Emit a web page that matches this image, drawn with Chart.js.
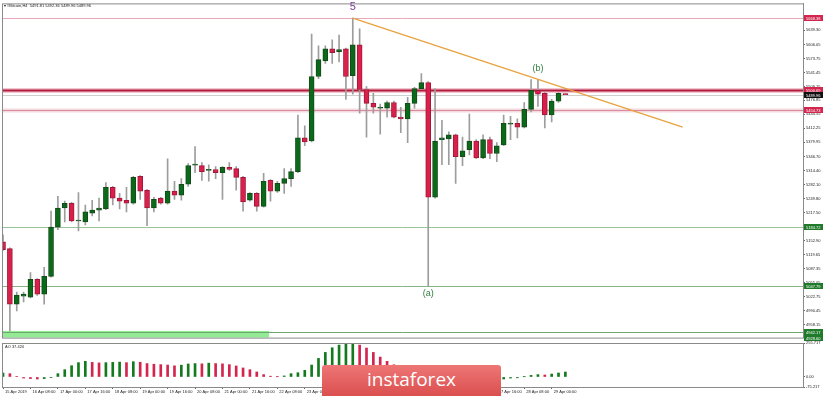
<!DOCTYPE html>
<html>
<head>
<meta charset="utf-8">
<script src="https://cdn.jsdelivr.net/npm/chart.js@4.4.0/dist/chart.umd.min.js"></script>
<style>
html, body { margin: 0; padding: 0; background: #fff; }
#wrap { position: relative; width: 823px; height: 396px; overflow: hidden; }
#main { position: absolute; left: 0; top: 0; }
#ao { position: absolute; left: 0; top: 335px; }
#logo {
    position: absolute; left: 322px; top: 365px; width: 179px; height: 31px;
    border-radius: 3px 3px 0 0; background: linear-gradient(#ee7676, #db4f4f);
    color: #fff; font: 19px "Open Sans", sans-serif; text-align: center; line-height: 29px;
}
</style>
</head>
<body>
<div id="wrap">
    <canvas id="main" width="823" height="341"></canvas>
    <canvas id="ao" width="823" height="61"></canvas>
    <div id="logo">instaforex</div>
</div>
<script>
// H4 bars, 15 Apr 16:00 .. 29 Apr 2019
const opens = [5150, 5134, 5006, 5024, 5022, 5063, 5029, 5070, 5184, 5228,
    5239, 5198, 5196, 5216, 5223, 5226, 5276, 5251, 5246, 5239,
    5301, 5269, 5228, 5251, 5239, 5267, 5258, 5283, 5327, 5326,
    5315, 5317, 5310, 5322, 5319, 5299, 5246, 5262, 5232, 5292,
    5267, 5285, 5296, 5312, 5390, 5383, 5532, 5568, 5596, 5589,
    5596, 5534, 5605, 5502, 5470, 5459, 5459, 5472, 5438, 5434,
    5470, 5504, 5518, 5253, 5386, 5388, 5397, 5347, 5363, 5383,
    5344, 5386, 5354, 5374, 5422, 5424, 5415, 5456, 5500, 5493,
    5443, 5475, 5491.81];
const highs = [5166, 5136, 5034, 5034, 5079, 5065, 5091, 5221, 5255, 5244,
    5241, 5264, 5235, 5246, 5251, 5287, 5278, 5262, 5276, 5301,
    5303, 5271, 5253, 5253, 5342, 5290, 5296, 5331, 5370, 5333,
    5328, 5324, 5324, 5333, 5324, 5301, 5264, 5264, 5308, 5294,
    5290, 5319, 5319, 5443, 5418, 5630, 5603, 5603, 5617, 5628,
    5598, 5667, 5642, 5509, 5493, 5468, 5475, 5475, 5461, 5484,
    5507, 5539, 5520, 5504, 5431, 5404, 5399, 5392, 5445, 5386,
    5397, 5392, 5379, 5443, 5440, 5434, 5472, 5525, 5525, 5495,
    5479, 5495, 5492.36];
const lows = [5130, 4944, 4990, 5011, 5020, 5026, 5006, 5068, 5178, 5196,
    5196, 5175, 5189, 5210, 5198, 5224, 5235, 5226, 5219, 5237,
    5248, 5187, 5219, 5237, 5237, 5248, 5246, 5278, 5310, 5292,
    5290, 5296, 5248, 5315, 5269, 5221, 5244, 5221, 5230, 5244,
    5264, 5262, 5278, 5310, 5372, 5381, 5527, 5562, 5562, 5566,
    5479, 5491, 5447, 5392, 5447, 5399, 5438, 5436, 5402, 5379,
    5459, 5502, 5048, 5251, 5328, 5328, 5285, 5326, 5351, 5342,
    5342, 5342, 5335, 5372, 5386, 5390, 5413, 5450, 5463, 5413,
    5427, 5472, 5489.96];
const closes = [5132, 5006, 5027, 5029, 5063, 5029, 5070, 5184, 5228, 5239,
    5198, 5199, 5219, 5223, 5228, 5276, 5251, 5244, 5239, 5299,
    5267, 5228, 5248, 5239, 5267, 5258, 5283, 5326, 5329, 5312,
    5317, 5310, 5322, 5317, 5299, 5242, 5262, 5232, 5290, 5267,
    5285, 5296, 5312, 5390, 5381, 5532, 5571, 5596, 5587, 5594,
    5532, 5605, 5502, 5470, 5461, 5460, 5472, 5438, 5434, 5470,
    5504, 5518, 5253, 5383, 5390, 5397, 5347, 5360, 5383, 5344,
    5386, 5354, 5372, 5424, 5424, 5415, 5456, 5500, 5491, 5443,
    5475, 5493, 5489.96];

const aoValues = [30, 25, 3, -8, -12, -15, -12, -5, 25, 55,
    85, 108, 118, 110, 106, 108, 110, 112, 108, 115,
    111, 101, 96, 93, 90, 84, 89, 98, 101, 99,
    104, 101, 99, 93, 83, 68, 55, 38, 18, 6,
    2, 8, 25, 32, 50, 90, 140, 185, 220, 240,
    248, 255.7, 240, 218, 185, 150, 118, 92, 70, 55,
    45, 40, 20, 5, -5, -15, -30, -42, -50, -60,
    -68, -75.2, -60, -15, -8, -6, 2, 12, 18, 15,
    22, 30, 37.42];

const priceTicks = [5639.30, 5606.05, 5573.75, 5541.45, 5509.15, 5476.85, 5444.55, 5412.25,
    5379.95, 5346.70, 5314.40, 5282.10, 5249.80, 5217.50, 5152.90, 5119.65, 5087.35,
    5055.05, 5022.75, 4990.45, 4958.15];
const aoTicks = [255.717, 0, -75.217];
const timeLabels = ['15 Apr 2019', '16 Apr 08:00', '17 Apr 00:00', '17 Apr 16:00', '18 Apr 08:00',
    '19 Apr 00:00', '19 Apr 16:00', '20 Apr 08:00', '21 Apr 00:00', '21 Apr 16:00', '22 Apr 08:00',
    '23 Apr 00:00', '23 Apr 16:00', '24 Apr 08:00', '25 Apr 00:00', '25 Apr 16:00', '26 Apr 08:00',
    '27 Apr 00:00', '27 Apr 16:00', '28 Apr 08:00', '29 Apr 00:00'];

const levelPrices = [5668.38, 5500.69, 5489.96, 5454.73, 5184.72, 5047.79, 4942.17];
const boxPrices = [5668.38, 5500.69, 5489.96, 5454.73, 5184.72, 5047.79, 4942.17, 4928.60];
const bandPrices = [4928.60, 4944];
const bandBars = [-0.15, 38.8];
const trendBars = [51, 99.1];
const trendPrices = [5667, 5415];
const waveTexts = ['5', '(b)', '(a)'];
const waveBars = [51, 78, 62];
const wavePrices = [5693, 5551, 5030];

const GREEN = '#0b6a19';
const RED = '#d8204b';
const FONT = '"Liberation Sans", Arial, sans-serif';

const levelStyles = [
    {line: '#e9a9b8', width: 1},
    {line: '#b31b3b', width: 2, halo: '#f2c6d0'},
    {line: '#cfcfcf', width: 1},
    {line: '#d88c9d', width: 1, halo: '#f4d9df'},
    {line: '#9cc49c', width: 1},
    {line: '#86b286', width: 1},
    {line: '#6fa66f', width: 1}
];
const boxColors = ['#d3264f', '#d3264f', '#111111', '#d3264f', '#1f7a2a', '#1f7a2a', '#1f7a2a', '#1f7a2a'];

const xMin = -0.15, xMax = 116.65;

const mainDecor = {
    id: 'mainDecor',
    beforeDatasetsDraw(chart) {
        const {ctx, chartArea: a, scales: {x, y}} = chart;
        ctx.save();
        let bx1 = x.getPixelForValue(bandBars[0]), bx2 = x.getPixelForValue(bandBars[1]);
        let by1 = y.getPixelForValue(bandPrices[1]), by2 = y.getPixelForValue(bandPrices[0]);
        ctx.fillStyle = '#93ec93';
        ctx.fillRect(bx1, by1, bx2 - bx1, by2 - by1);
        levelPrices.forEach((p, i) => {
            const st = levelStyles[i];
            const py = Math.round(y.getPixelForValue(p)) + 0.5;
            if (st.halo) {
                ctx.strokeStyle = st.halo;
                ctx.lineWidth = st.width + 3;
                ctx.beginPath(); ctx.moveTo(a.left, py); ctx.lineTo(a.right, py); ctx.stroke();
            }
            ctx.strokeStyle = st.line;
            ctx.lineWidth = st.width;
            ctx.beginPath(); ctx.moveTo(a.left, py); ctx.lineTo(a.right, py); ctx.stroke();
        });
        ctx.restore();
    },
    afterDraw(chart) {
        const {ctx, chartArea: a, scales: {x, y}} = chart;
        ctx.save();
        ctx.strokeStyle = '#8a8a8a';
        ctx.lineWidth = 1;
        ctx.strokeRect(a.left + 0.5, a.top + 0.5, a.right - a.left, a.bottom - a.top);

        // price boxes on the right axis
        ctx.font = '4px ' + FONT;
        ctx.textBaseline = 'middle';
        ctx.textAlign = 'left';
        boxPrices.forEach((p, i) => {
            const py = Math.round(y.getPixelForValue(p));
            ctx.fillStyle = boxColors[i];
            ctx.fillRect(a.right + 1, py - 3, 19, 6);
            ctx.fillStyle = '#fff';
            ctx.fillText(p.toFixed(2), a.right + 3, py + 0.5);
        });

        // wave labels
        ctx.textAlign = 'center';
        waveTexts.forEach((t, i) => {
            ctx.font = (i === 0 ? '11px ' : '9px ') + FONT;
            ctx.fillStyle = i === 0 ? '#7d3b97' : '#2f7d3c';
            ctx.fillText(t, x.getPixelForValue(waveBars[i]), y.getPixelForValue(wavePrices[i]));
        });

        ctx.textAlign = 'left';
        ctx.font = '4px ' + FONT;
        ctx.fillStyle = '#222';
        ctx.fillText('\u25BE #Bitcoin,H4  5491.81 5492.36 5489.96 5489.96', 4, 6);
        ctx.restore();
    }
};

const aoDecor = {
    id: 'aoDecor',
    afterDraw(chart) {
        const {ctx, chartArea: a} = chart;
        ctx.save();
        ctx.strokeStyle = '#8a8a8a';
        ctx.lineWidth = 1;
        ctx.strokeRect(a.left + 0.5, a.top + 0.5, a.right - a.left, a.bottom - a.top);
        ctx.font = '4px ' + FONT;
        ctx.fillStyle = '#222';
        ctx.textBaseline = 'middle';
        ctx.fillText('AO 37.420', 5, a.top + 4);
        ctx.restore();
    }
};

const candleColors = closes.map((c, i) => c >= opens[i] ? GREEN : RED);
const candleBorders = closes.map((c, i) => c >= opens[i] ? '#134a18' : '#a3173a');

const chart_main = new Chart(document.getElementById('main'), {
    type: 'bar',
    data: {
        datasets: [{
            type: 'line',
            data: trendBars.map((b, i) => ({x: b, y: trendPrices[i]})),
            borderColor: '#e8a23e',
            borderWidth: 1.3,
            pointRadius: 0,
            fill: false
        }, {
            data: opens.map((o, i) => ({x: i, y: [o, closes[i]]})),
            backgroundColor: candleColors,
            borderColor: candleBorders,
            borderWidth: 1,
            borderSkipped: false,
            barThickness: 5,
            minBarLength: 1,
            grouped: false
        }, {
            data: highs.map((h, i) => ({x: i, y: [lows[i], h]})),
            backgroundColor: '#9d9d9d',
            barThickness: 1,
            grouped: false
        }]
    },
    options: {
        responsive: false,
        animation: false,
        layout: {padding: {left: 2, top: 2, right: 0, bottom: 1}},
        plugins: {legend: {display: false}, tooltip: {enabled: false}},
        scales: {
            x: {type: 'linear', min: xMin, max: xMax, offset: false, display: false},
            y: {
                position: 'right',
                min: 4928.5,
                max: 5701,
                afterBuildTicks: s => { s.ticks = priceTicks.map(v => ({value: v})); },
                afterFit: s => { s.width = 20; },
                ticks: {font: {size: 4, family: FONT}, color: '#222', padding: 1, autoSkip: false,
                    callback: v => v.toFixed(2)},
                grid: {drawOnChartArea: false, tickLength: 2, color: '#666'},
                border: {color: '#8a8a8a'}
            }
        }
    },
    plugins: [mainDecor]
});

const chart_ao = new Chart(document.getElementById('ao'), {
    type: 'bar',
    data: {
        datasets: [{
            data: aoValues.map((v, i) => ({x: i, y: v})),
            backgroundColor: aoValues.map((v, i) => (i === 0 || v >= aoValues[i - 1]) ? '#137a1e' : '#d3264f'),
            barThickness: 2,
            grouped: false
        }]
    },
    options: {
        responsive: false,
        animation: false,
        layout: {padding: {left: 2, top: 8, right: 0, bottom: 0}},
        plugins: {legend: {display: false}, tooltip: {enabled: false}},
        scales: {
            x: {
                type: 'linear', min: xMin, max: xMax, offset: false,
                afterBuildTicks: s => { s.ticks = timeLabels.map((t, k) => ({value: k * 4})); },
                afterFit: s => { s.height = 9; },
                ticks: {font: {size: 4, family: FONT}, color: '#222', padding: 0, align: 'start',
                    labelOffset: 2, maxRotation: 0, autoSkip: false,
                    callback: (v, idx) => timeLabels[idx]},
                grid: {drawOnChartArea: false, tickLength: 2, color: '#666', offset: false},
                border: {color: '#8a8a8a'}
            },
            y: {
                position: 'right',
                min: -75.217,
                max: 255.717,
                afterBuildTicks: s => { s.ticks = aoTicks.map(v => ({value: v})); },
                afterFit: s => { s.width = 20; },
                ticks: {font: {size: 4, family: FONT}, color: '#222', padding: 1, autoSkip: false,
                    callback: v => v === 0 ? '0.00' : v.toFixed(3)},
                grid: {drawOnChartArea: false, tickLength: 2, color: '#666'},
                border: {color: '#8a8a8a'}
            }
        }
    },
    plugins: [aoDecor]
});
</script>
</body>
</html>
